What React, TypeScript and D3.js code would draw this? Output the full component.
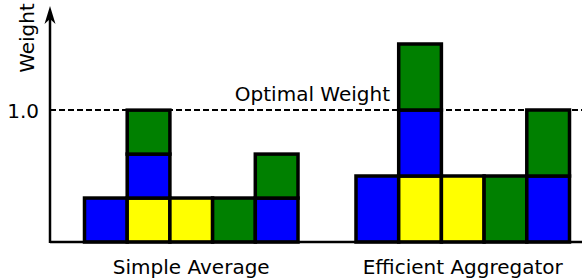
import React from 'react';
import * as d3 from 'd3';

// two groups of five stacked bars, colours stacked bottom -> top
const groups = ['Simple Average', 'Efficient Aggregator'];
const slots = ['0', '1', '2', '3', '4'];
const barColors: string[][] = [
  ['#0000ff'],
  ['#ffff00', '#0000ff', '#008000'],
  ['#ffff00'],
  ['#008000'],
  ['#0000ff', '#008000'],
];
const simpleWeights: number[][] = [
  [0.333],
  [0.333, 0.333, 0.333],
  [0.333],
  [0.333],
  [0.333, 0.333],
];
const efficientWeights: number[][] = [
  [0.5],
  [0.5, 0.5, 0.5],
  [0.5],
  [0.5],
  [0.5, 0.5],
];
const yTicks = [1.0];
const optimalWeight = 1.0;

const width = 582;
const height = 280;
const font = 'DejaVu Sans, sans-serif';
const fs = 20;

export default function App() {
  const axisX = 50;
  const baseY = 242;

  const xGroup = d3.scaleBand<string>().domain(groups).range([84.5, 569.5]).paddingInner(0.2136);
  const xSlot = d3.scaleBand<string>().domain(slots).range([0, xGroup.bandwidth()]).padding(0);
  const y = d3.scaleLinear().domain([0, 1]).range([baseY, 110]);

  const allWeights = [simpleWeights, efficientWeights];

  const rects: JSX.Element[] = [];
  groups.forEach((g, gi) => {
    allWeights[gi].forEach((stackVals, si) => {
      let acc = 0;
      stackVals.forEach((v, k) => {
        const y0 = acc;
        const y1 = acc + v;
        acc = y1;
        rects.push(
          <rect
            key={`${gi}-${si}-${k}`}
            x={(xGroup(g) ?? 0) + (xSlot(slots[si]) ?? 0)}
            y={y(y1)}
            width={xSlot.bandwidth()}
            height={y(y0) - y(y1)}
            fill={barColors[si][k]}
            stroke="#000"
            strokeWidth={3.5}
          />
        );
      });
    });
  });

  return (
    <svg width={width} height={height} style={{ position: 'absolute', left: 0, top: 0, background: '#fff' }}>
      {/* dashed optimal line */}
      <line x1={axisX} x2={width} y1={y(optimalWeight)} y2={y(optimalWeight)} stroke="#000" strokeWidth={2} strokeDasharray="6,3" />
      <text x={390} y={101} textAnchor="end" fontFamily={font} fontSize={fs} fill="#000">Optimal Weight</text>

      {rects}

      {/* axes */}
      <line x1={axisX} x2={width} y1={baseY} y2={baseY} stroke="#000" strokeWidth={2.5} />
      <line x1={axisX} x2={axisX} y1={baseY + 1} y2={16} stroke="#000" strokeWidth={2.5} />
      <path d={`M${axisX},6 L${axisX + 5.5},24 L${axisX},19 L${axisX - 5.5},24 Z`} fill="#000" />

      {yTicks.map(t => (
        <text key={t} x={39} y={y(t) + 8} textAnchor="end" fontFamily={font} fontSize={fs} fill="#000">{t.toFixed(1)}</text>
      ))}
      <text transform="translate(34,38) rotate(-90)" textAnchor="middle" fontFamily={font} fontSize={fs} fill="#000">Weight</text>

      {groups.map(g => (
        <text key={g} x={(xGroup(g) ?? 0) + xGroup.bandwidth() / 2} y={273.5} textAnchor="middle" fontFamily={font} fontSize={fs} fill="#000">{g}</text>
      ))}
    </svg>
  );
}
